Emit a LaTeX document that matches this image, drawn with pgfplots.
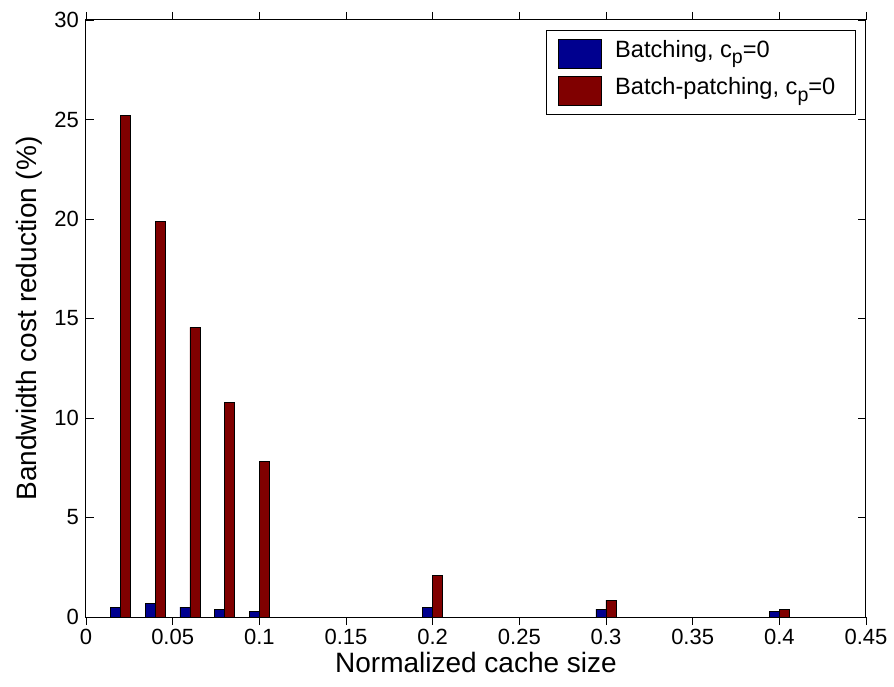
\documentclass[border=0pt]{standalone}
\usepackage{pgfplots}
\pgfplotsset{compat=1.18}
\usepackage{fontspec}
\setmainfont{Liberation Sans}
\definecolor{mblue}{RGB}{0,0,143}
\definecolor{mred}{RGB}{128,0,0}
\newcommand{\cp}{c\raisebox{-0.55ex}{\fontsize{9.8}{9.8}\selectfont p}=0\hspace*{4pt}}
\begin{document}
\begin{tikzpicture}
\useasboundingbox (-43pt,-34.5pt) rectangle (404pt,308.5pt);
\begin{axis}[
  at={(0,0)}, anchor=south west,
  width=390pt, height=298.5pt, scale only axis,
  xmin=0, xmax=0.45, ymin=0, ymax=30,
  xtick={0,0.05,0.1,0.15,0.2,0.25,0.3,0.35,0.4,0.45},
  xticklabels={0,0.05,0.1,0.15,0.2,0.25,0.3,0.35,0.4,0.45},
  ytick={0,5,10,15,20,25,30},
  tick align=inside, tick pos=both, major tick length=4pt,
  tick style={black, line width=0.4pt},
  axis line style={black, line width=0.5pt},
  /pgf/number format/assume math mode=true,
  ticklabel style={font=\fontsize{11}{13}\selectfont},
  xticklabel style={inner ysep=2pt},
  xlabel={Normalized cache size},
  ylabel={Bandwidth cost reduction (\%)},
  label style={font=\fontsize{14}{16}\selectfont},
  xlabel style={yshift=-0.5pt, inner ysep=1pt},
  ylabel style={yshift=-1pt},
  ybar, bar width=0.0058,
  legend style={at={(rel axis cs:0.987,0.983)}, anchor=north east,
    draw=black, line width=0.5pt, font=\fontsize{11.8}{13}\selectfont,
    inner xsep=6pt, inner ysep=4pt, row sep=4pt, column sep=6.5pt,
    nodes={inner sep=0pt}},
  legend image code/.code={\draw[#1, line width=0.4pt] (0pt,-9pt) rectangle (21.5pt,5.5pt);},
  legend cell align=left,
]
\addplot[fill=mblue, draw=black, line width=0.4pt, bar shift=-0.0029] coordinates {
(0.02,0.5) (0.04,0.69) (0.06,0.5) (0.08,0.4) (0.1,0.3) (0.2,0.5) (0.3,0.4) (0.4,0.3)};
\addlegendentry{Batching, \cp}
\addplot[fill=mred, draw=black, line width=0.4pt, bar shift=0.0029] coordinates {
(0.02,25.22) (0.04,19.87) (0.06,14.55) (0.08,10.8) (0.1,7.8) (0.2,2.07) (0.3,0.85) (0.4,0.4)};
\addlegendentry{Batch-patching, \cp}
\end{axis}
\end{tikzpicture}
\end{document}
